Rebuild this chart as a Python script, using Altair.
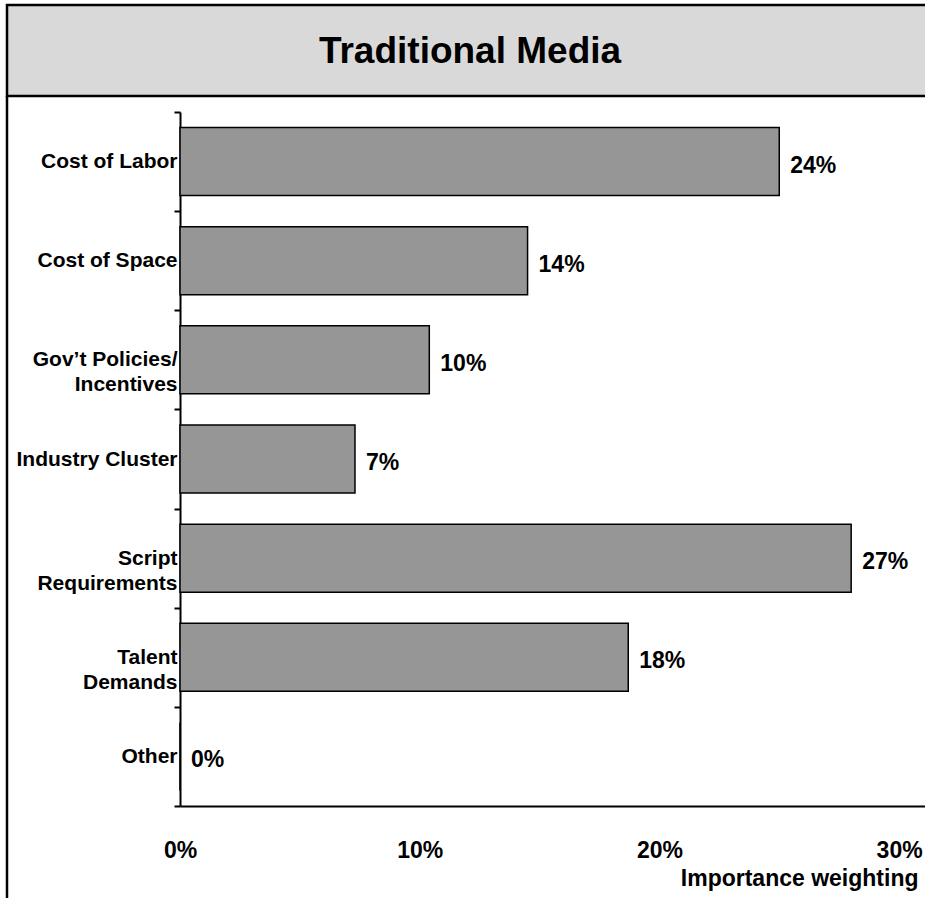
import altair as alt
import pandas as pd

categories = ["Cost of Labor", "Cost of Space", "Gov\u2019t Policies/\nIncentives",
              "Industry Cluster", "Script\u00a0\nRequirements", "Talent\u00a0\nDemands", "Other"]
bar_values = [25.0, 14.5, 10.4, 7.3, 28.0, 18.7, 0.0]
label_text = ["24%", "14%", "10%", "7%", "27%", "18%", "0%"]
x_ticks = [0, 10, 20, 30]
title_text = "Traditional Media"
x_title = "Importance weighting"

FONT = "Liberation Sans, Arial, sans-serif"
W, H = 745, 694

df = pd.DataFrame({"cat": categories, "val": bar_values, "lab": label_text})

y_enc = alt.Y("cat:N", sort=categories,
              scale=alt.Scale(paddingInner=0, paddingOuter=0),
              axis=alt.Axis(title=None, labelExpr="split(datum.label, '\\n')",
                            labelFont=FONT, labelFontSize=21, labelFontWeight="bold",
                            labelColor="black", labelLineHeight=25, labelPadding=-3,
                            labelLimit=300,
                            tickBand="extent", tickSize=6, tickColor="black", tickWidth=2,
                            domainColor="black", domainWidth=2, grid=False))
x_scale = alt.Scale(domain=[0, 31.08], nice=False, zero=True)

bars = alt.Chart(df).mark_bar(
    fill="#969696", stroke="black", strokeWidth=1.5,
    height=alt.RelativeBandSize(0.686)
).encode(
    y=y_enc,
    x=alt.X("val:Q", scale=x_scale,
            axis=alt.Axis(values=x_ticks, labelExpr="datum.value + '%'",
                          labelFont=FONT, labelFontSize=23, labelFontWeight="bold",
                          labelColor="black", tickSize=0, labelPadding=33,
                          labelFlush=False, labelAlign="center",
                          domainColor="black", domainWidth=2, grid=False,
                          title=x_title, titleFont=FONT, titleFontSize=23,
                          titleFontWeight="bold", titleColor="black",
                          titleAnchor="end", titleAlign="right", titleBaseline="alphabetic",
                          titleX=738, titleY=79)),
)

labels = alt.Chart(df).mark_text(
    align="left", baseline="middle", dx=11, dy=4,
    font=FONT, fontSize=23, fontWeight="bold", color="black"
).encode(
    y=alt.Y("cat:N", sort=categories),
    x=alt.X("val:Q", scale=x_scale),
    text="lab:N",
)

one = pd.DataFrame({"t": [title_text]})
title_box = alt.Chart(one).mark_rect(
    fill="#d9d9d9", stroke="black", strokeWidth=2.5
).encode(x=alt.value(-173), x2=alt.value(770), y=alt.value(-107), y2=alt.value(-16))
page_line = alt.Chart(one).mark_rule(color="black", strokeWidth=2.5).encode(
    x=alt.value(-173), y=alt.value(-16), y2=alt.value(800))
title = alt.Chart(one).mark_text(
    font=FONT, fontSize=37, fontWeight="bold", color="black",
    align="center", baseline="middle"
).encode(x=alt.value(290), y=alt.value(-60), text="t:N")

chart = alt.layer(title_box, page_line, title, bars, labels).properties(
    width=W, height=H,
    background="white",
    autosize=alt.AutoSizeParams(type="none"),
    padding={"left": 180, "top": 112, "right": 0, "bottom": 92},
).configure_view(strokeWidth=0)

chart.save("out.html", embed_options={"renderer": "svg", "actions": False})
